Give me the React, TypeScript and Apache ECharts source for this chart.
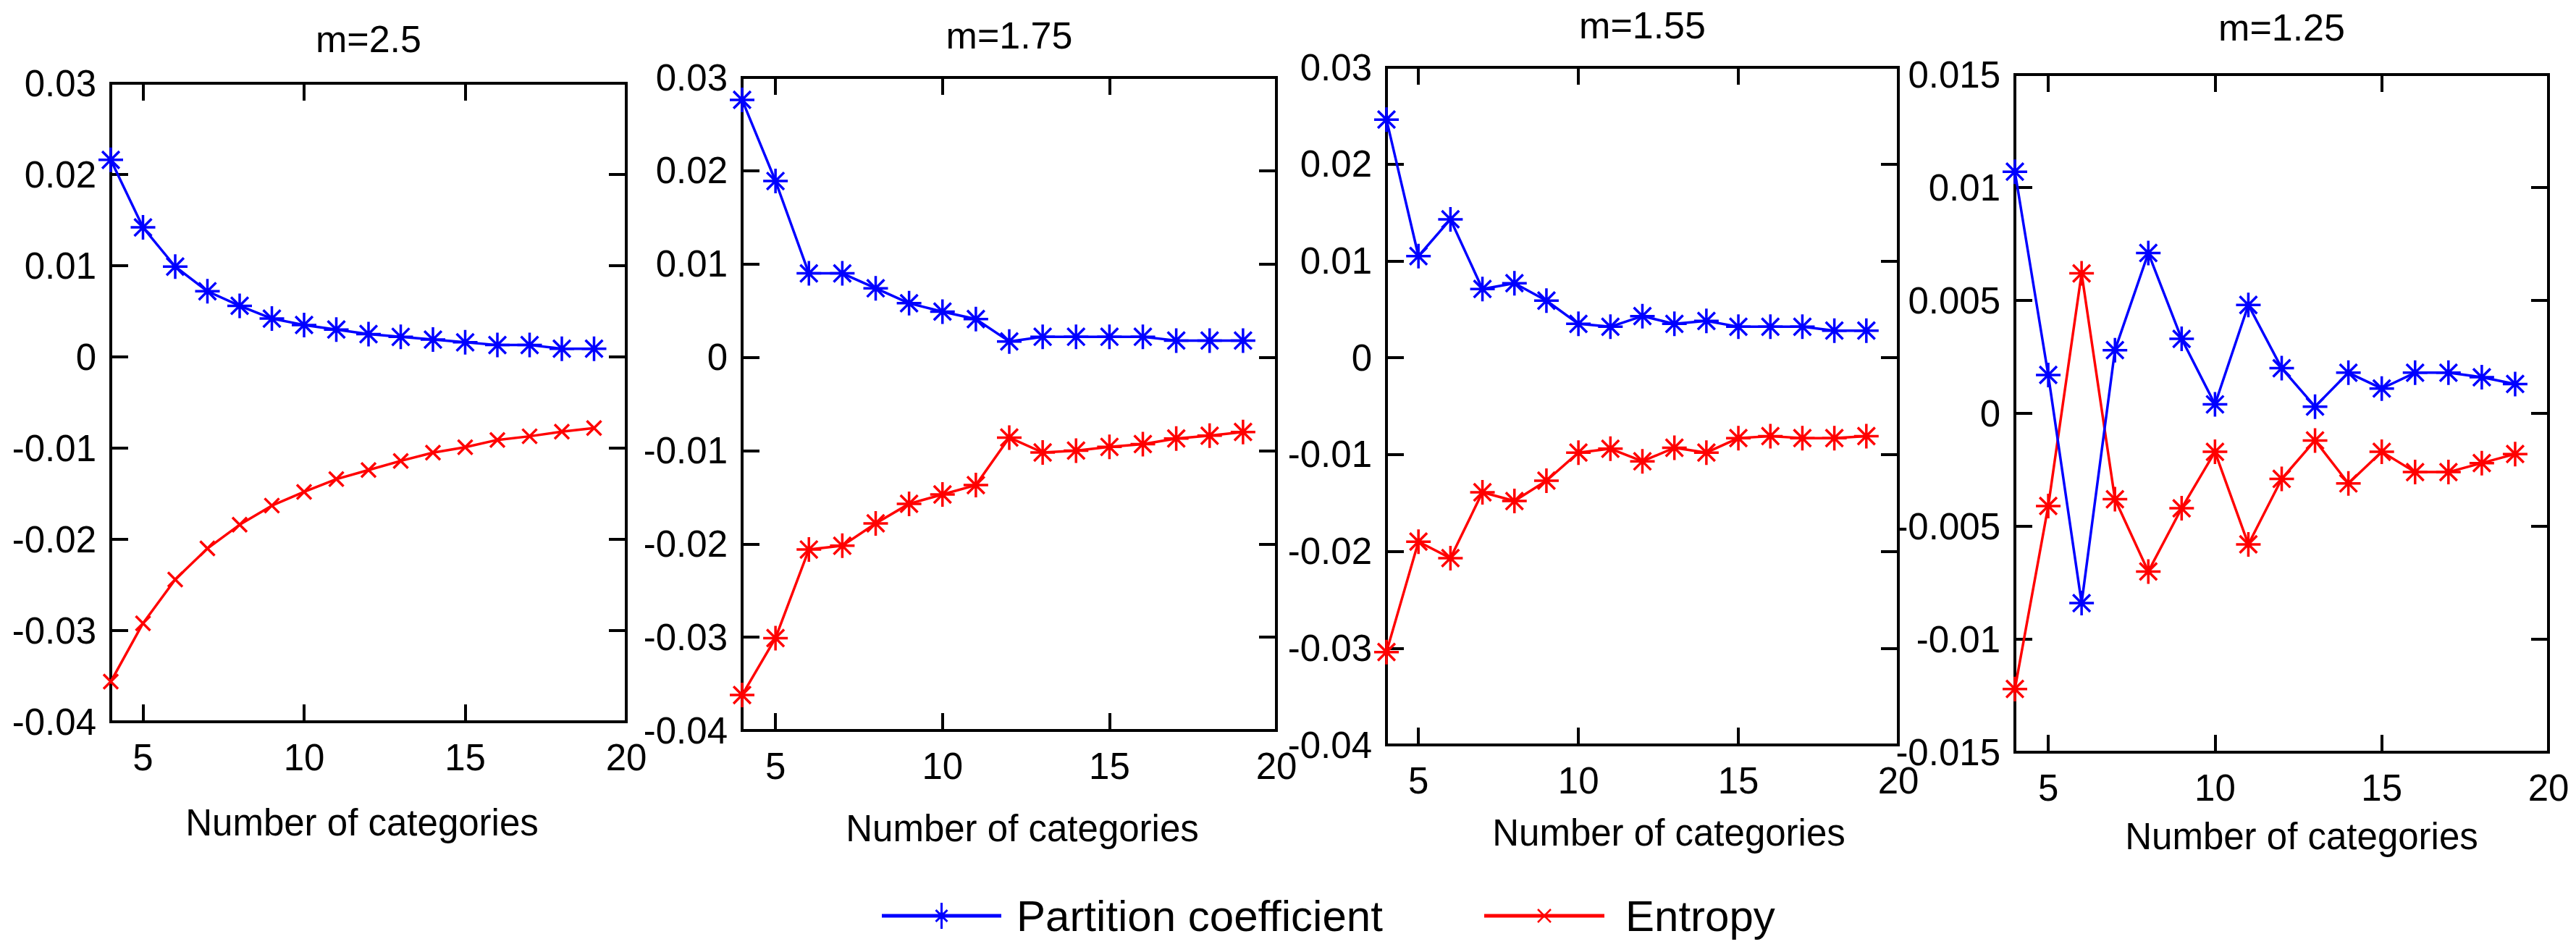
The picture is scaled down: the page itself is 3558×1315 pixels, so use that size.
import React, { useEffect, useRef } from "react";
import * as echarts from "echarts";

// ---------------- data ----------------
const categories = [4, 5, 6, 7, 8, 9, 10, 11, 12, 13, 14, 15, 16, 17, 18, 19];

const titles = ["m=2.5", "m=1.75", "m=1.55", "m=1.25"];
const xAxisName = "Number of categories";
const legendNames = ["Partition coefficient", "Entropy"];

const pcM250 = [0.0216, 0.0142, 0.0099, 0.0072, 0.0056, 0.0042, 0.0035, 0.0030, 0.0025, 0.0022, 0.0019, 0.0016, 0.0013, 0.0013, 0.0009, 0.0009];
const enM250 = [-0.0356, -0.0292, -0.0244, -0.0210, -0.0184, -0.0163, -0.0148, -0.0134, -0.0124, -0.0114, -0.0105, -0.0099, -0.0091, -0.0087, -0.0082, -0.0078];

const pcM175 = [0.0276, 0.0189, 0.0090, 0.0090, 0.0074, 0.0058, 0.0049, 0.0041, 0.0017, 0.0022, 0.0022, 0.0022, 0.0022, 0.0018, 0.0018, 0.0018];
const enM175 = [-0.0362, -0.0301, -0.0206, -0.0202, -0.0178, -0.0157, -0.0147, -0.0137, -0.0086, -0.0102, -0.0100, -0.0096, -0.0093, -0.0087, -0.0084, -0.0080];

const pcM155 = [0.0246, 0.0105, 0.0143, 0.0071, 0.0077, 0.0059, 0.0035, 0.0032, 0.0043, 0.0035, 0.0038, 0.0032, 0.0032, 0.0032, 0.0028, 0.0028];
const enM155 = [-0.0304, -0.0190, -0.0207, -0.0139, -0.0148, -0.0127, -0.0098, -0.0094, -0.0107, -0.0093, -0.0098, -0.0083, -0.0081, -0.0083, -0.0083, -0.0081];

const pcM125 = [0.0107, 0.0017, -0.0084, 0.0028, 0.0071, 0.0033, 0.0004, 0.0048, 0.0020, 0.0003, 0.0018, 0.0011, 0.0018, 0.0018, 0.0016, 0.0013];
const enM125 = [-0.0122, -0.0041, 0.0062, -0.0038, -0.0070, -0.0042, -0.0017, -0.0058, -0.0029, -0.0012, -0.0031, -0.0017, -0.0026, -0.0026, -0.0022, -0.0018];

const xTicks = [5, 10, 15, 20];
const yTicksWide = [-0.04, -0.03, -0.02, -0.01, 0, 0.01, 0.02, 0.03];
const yTicksNarrow = [-0.015, -0.01, -0.005, 0, 0.005, 0.01, 0.015];

// ---------------- layout / style ----------------
const panels = [
  { pc: pcM250, en: enM250, yTicks: yTicksWide, enSymbol: "x", left: 153, top: 115, width: 712, height: 882, nameX: 500, nameY: 1136, titleY: 54 },
  { pc: pcM175, en: enM175, yTicks: yTicksWide, enSymbol: "star", left: 1025, top: 107, width: 738, height: 902, nameX: 1412, nameY: 1144, titleY: 49 },
  { pc: pcM155, en: enM155, yTicks: yTicksWide, enSymbol: "star", left: 1915, top: 93, width: 707, height: 936, nameX: 2305, nameY: 1150, titleY: 35 },
  { pc: pcM125, en: enM125, yTicks: yTicksNarrow, enSymbol: "star", left: 2783, top: 103, width: 737, height: 936, nameX: 3179, nameY: 1155, titleY: 38 },
];

const BLUE = "#0000ff";
const RED = "#ff0000";
const FONT = "'Liberation Sans', Arial, sans-serif";
const STAR = "path://M0 10L20 10M10 0L10 20M3 3L17 17M17 3L3 17";
const XMARK = "path://M0 0L20 20M20 0L0 20";

const fmt = (v: number) => String(parseFloat(Number(v).toFixed(4)));

function buildOption() {
  const grid: any[] = [];
  const xAxis: any[] = [];
  const yAxis: any[] = [];
  const series: any[] = [];
  const graphic: any[] = [];

  const tick = (vals: number[]) => ({ show: true, inside: true, length: 24, customValues: vals, lineStyle: { color: "#000", width: 4 } });
  const labelStyle = { color: "#000", fontFamily: FONT, fontSize: 51 };
  const boxLine = { show: true, onZero: false, lineStyle: { color: "#000", width: 4, cap: "square" } };

  panels.forEach((p, i) => {
    grid.push({ left: p.left, top: p.top, width: p.width, height: p.height, show: false });
    const yMin = p.yTicks[0];
    const yMax = p.yTicks[p.yTicks.length - 1];
    xAxis.push({
      type: "value", gridIndex: i, min: 4, max: 20, position: "bottom",
      axisLine: boxLine, axisTick: tick(xTicks),
      axisLabel: { ...labelStyle, margin: 24, customValues: xTicks },
      splitLine: { show: false },
    });
    xAxis.push({
      type: "value", gridIndex: i, min: 4, max: 20, position: "top",
      axisLine: boxLine, axisTick: tick(xTicks),
      axisLabel: { show: false }, splitLine: { show: false },
    });
    yAxis.push({
      type: "value", gridIndex: i, min: yMin, max: yMax, position: "left",
      axisLine: boxLine, axisTick: tick(p.yTicks),
      axisLabel: { ...labelStyle, margin: 20, customValues: p.yTicks, formatter: fmt },
      splitLine: { show: false },
    });
    yAxis.push({
      type: "value", gridIndex: i, min: yMin, max: yMax, position: "right",
      axisLine: boxLine, axisTick: tick(p.yTicks),
      axisLabel: { show: false }, splitLine: { show: false },
    });

    series.push({
      type: "line", name: legendNames[0],
      xAxisIndex: 2 * i, yAxisIndex: 2 * i,
      data: categories.map((c, k) => [c, p.pc[k]]),
      symbol: STAR, symbolSize: 34, clip: false,
      lineStyle: { color: BLUE, width: 3.5 },
      itemStyle: { color: BLUE, borderColor: BLUE, borderWidth: 3.5 },
      z: 3,
    });
    series.push({
      type: "line", name: legendNames[1],
      xAxisIndex: 2 * i, yAxisIndex: 2 * i,
      data: categories.map((c, k) => [c, p.en[k]]),
      symbol: p.enSymbol === "x" ? XMARK : STAR,
      symbolSize: p.enSymbol === "x" ? 20 : 34, clip: false,
      lineStyle: { color: RED, width: 3.5 },
      itemStyle: { color: RED, borderColor: RED, borderWidth: 3.5 },
      z: 2,
    });

    graphic.push({
      type: "text", x: p.left + p.width / 2, y: p.titleY,
      style: { text: titles[i], fill: "#000", font: `52px ${FONT}`, textAlign: "center", textVerticalAlign: "middle" },
    });
    graphic.push({
      type: "text", x: p.nameX, y: p.nameY,
      style: { text: xAxisName, fill: "#000", font: `51px ${FONT}`, textAlign: "center", textVerticalAlign: "middle" },
    });
  });

  // legend (drawn manually)
  const ly = 1265;
  const legendItems = [
    { x1: 1218, x2: 1383, color: BLUE, kind: "star", text: legendNames[0], tx: 1404 },
    { x1: 2050, x2: 2216, color: RED, kind: "x", text: legendNames[1], tx: 2245 },
  ];
  legendItems.forEach((it) => {
    const cx = (it.x1 + it.x2) / 2;
    const children: any[] = [
      { type: "line", shape: { x1: it.x1, y1: ly, x2: it.x2, y2: ly }, style: { stroke: it.color, lineWidth: 5 } },
    ];
    if (it.kind === "star") {
      const r = 18, d = 8;
      children.push({ type: "line", shape: { x1: cx, y1: ly - r, x2: cx, y2: ly + r }, style: { stroke: it.color, lineWidth: 3 } });
      children.push({ type: "line", shape: { x1: cx - d, y1: ly - d, x2: cx + d, y2: ly + d }, style: { stroke: it.color, lineWidth: 3 } });
      children.push({ type: "line", shape: { x1: cx + d, y1: ly - d, x2: cx - d, y2: ly + d }, style: { stroke: it.color, lineWidth: 3 } });
      children.push({ type: "circle", shape: { cx, cy: ly, r: 5 }, style: { fill: it.color } });
    } else {
      const d = 9;
      children.push({ type: "line", shape: { x1: cx - d, y1: ly - d, x2: cx + d, y2: ly + d }, style: { stroke: it.color, lineWidth: 2.5 } });
      children.push({ type: "line", shape: { x1: cx + d, y1: ly - d, x2: cx - d, y2: ly + d }, style: { stroke: it.color, lineWidth: 2.5 } });
    }
    children.push({
      type: "text", x: it.tx, y: ly,
      style: { text: it.text, fill: "#000", font: `60px ${FONT}`, textAlign: "left", textVerticalAlign: "middle" },
    });
    graphic.push({ type: "group", children });
  });

  return {
    animation: false,
    backgroundColor: "#fff",
    grid, xAxis, yAxis, series, graphic,
  };
}

export default function App() {
  const ref = useRef<HTMLDivElement>(null);
  useEffect(() => {
    document.body.style.margin = "0";
    if (!ref.current) return;
    const chart = echarts.init(ref.current, null, { renderer: "svg" });
    chart.setOption(buildOption());
    return () => chart.dispose();
  }, []);
  return <div ref={ref} style={{ width: 3558, height: 1315, background: "#fff" }} />;
}
